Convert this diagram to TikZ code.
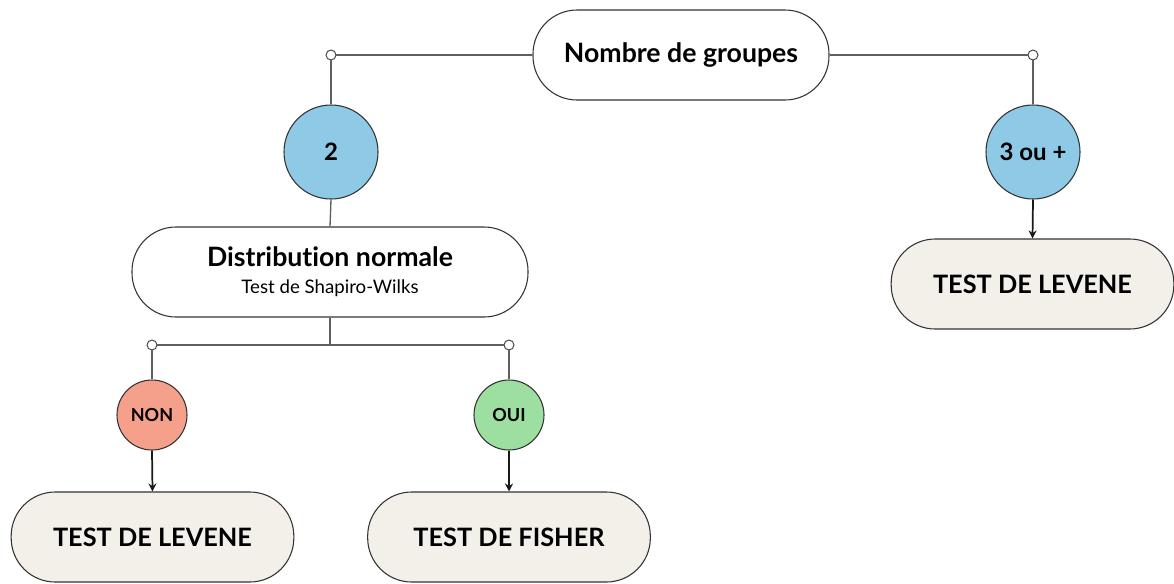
\documentclass[tikz,border=0pt]{standalone}
\usepackage{fontspec}
\setmainfont{Lato}[Ligatures=NoCommon]
\usetikzlibrary{arrows.meta, positioning, calc}
\definecolor{groupblue}{RGB}{142,201,230}
\definecolor{nonred}{RGB}{244,160,138}
\definecolor{ouigreen}{RGB}{157,223,160}
\definecolor{testbeige}{RGB}{243,239,233}
\definecolor{linegray}{RGB}{95,95,95}
\tikzset{
    pillbox/.style={rectangle, rounded corners=33pt, minimum height=67.5pt, draw=black!80, line width=0.8pt, align=center, fill=white},
    testbox/.style={pillbox, fill=testbeige, minimum width=212pt, font=\fontsize{19}{22}\selectfont\bfseries},
    choicecirc/.style={circle, draw=black!80, line width=0.8pt, fill=#1, inner sep=0pt},
    joint/.style={circle, draw=black!75, fill=white, line width=0.7pt, minimum size=7.5pt, inner sep=0pt},
    link/.style={draw=linegray, line width=1pt},
    arrow/.style={-{Stealth[length=6pt, width=6pt]}, black!90, line width=1.3pt},
}

\begin{document}
\begin{tikzpicture}[
    x=0.75pt, y=-0.75pt,
    bigcirc/.style={choicecirc=#1, minimum size=70.5pt, font=\fontsize{18}{21}\selectfont\bfseries},
    smallcirc/.style={choicecirc=#1, minimum size=52.5pt, font=\fontsize{13.5}{16}\selectfont\bfseries}
]
\useasboundingbox (0,0) rectangle (1174,583);

\node[pillbox, minimum width=222pt, font=\fontsize{20}{23}\selectfont\bfseries] (groups) at (681,55) {Nombre de groupes};
\node[joint] (left-joint) at (331,55) {};
\node[joint] (right-joint) at (1033,55) {};

\node[bigcirc=groupblue] (two) at (331,152) {2};
\node[bigcirc=groupblue] (three) at (1033,152) {3 ou +};

\node[pillbox, minimum width=297pt] (normal) at (330,272) {{\fontsize{20}{23}\selectfont\bfseries Distribution normale}\\[8pt]{\fontsize{14}{16}\selectfont Test de Shapiro-Wilks}};
\node[joint] (non-joint) at (152,345) {};
\node[joint] (oui-joint) at (509,345) {};
\coordinate (split) at (normal.south |- non-joint);

\node[smallcirc=nonred] (non) at (152,415) {NON};
\node[smallcirc=ouigreen] (oui) at (509,415) {OUI};

\node[testbox] (levene-left) at (152.5,537) {TEST DE LEVENE};
\node[testbox] (fisher) at (509,537) {TEST DE FISHER};
\node[testbox] (levene-right) at (1032.5,284) {TEST DE LEVENE};

\draw[link] (groups.west) -- (left-joint.east);
\draw[link] (groups.east) -- (right-joint.west);
\draw[link] (left-joint.south) -- (two.north);
\draw[link] (right-joint.south) -- (three.north);
\draw[link] (two.south) -- (normal.north);
\draw[link] (normal.south) -- (split);
\draw[link] (non-joint.east) -- (oui-joint.west);
\draw[link] (non-joint.south) -- (non.north);
\draw[link] (oui-joint.south) -- (oui.north);

\draw[arrow] (non.south) -- (levene-left.north);
\draw[arrow] (oui.south) -- (fisher.north);
\draw[arrow] (three.south) -- (levene-right.north);

\end{tikzpicture}
\end{document}
